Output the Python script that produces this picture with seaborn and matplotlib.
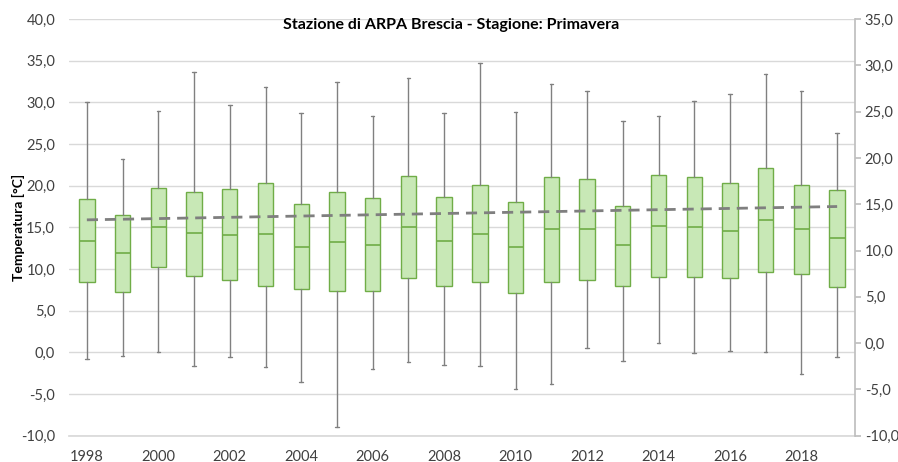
import numpy as np
import pandas as pd
import seaborn as sns
import matplotlib
matplotlib.use("Agg")
import matplotlib.pyplot as plt
from matplotlib.ticker import FuncFormatter, MultipleLocator

# Spring temperature distribution per year
years = [1998, 1999, 2000, 2001, 2002, 2003, 2004, 2005, 2006, 2007, 2008,
         2009, 2010, 2011, 2012, 2013, 2014, 2015, 2016, 2017, 2018, 2019]
t_max = [30.0, 23.2, 29.0, 33.7, 29.7, 31.8, 28.7, 32.4, 28.4, 32.9, 28.7,
         34.7, 28.8, 32.2, 31.4, 27.8, 28.4, 30.2, 31.0, 33.4, 31.4, 26.3]
t_q3 = [18.4, 16.5, 19.7, 19.3, 19.6, 20.3, 17.8, 19.3, 18.5, 21.2, 18.7,
        20.1, 18.0, 21.1, 20.8, 17.6, 21.3, 21.0, 20.3, 22.1, 20.1, 19.5]
t_med = [13.4, 11.9, 15.0, 14.3, 14.1, 14.2, 12.7, 13.3, 12.9, 15.0, 13.4,
         14.2, 12.6, 14.8, 14.8, 12.9, 15.2, 15.0, 14.6, 15.9, 14.8, 13.7]
t_q1 = [8.5, 7.2, 10.3, 9.2, 8.7, 8.0, 7.6, 7.4, 7.4, 8.9, 8.0,
        8.4, 7.1, 8.4, 8.7, 8.0, 9.0, 9.1, 8.9, 9.6, 9.4, 7.8]
t_min = [-0.8, -0.4, 0.0, -1.6, -0.6, -1.8, -3.6, -9.0, -2.0, -1.2, -1.5,
         -1.6, -4.4, -3.8, 0.5, -1.0, 1.1, -0.1, 0.2, 0.1, -2.6, -0.5]

# Linear trend of the median, endpoints
trend_years = [1998, 2019]
trend_values = [15.9, 17.5]

title = "Stazione di ARPA Brescia - Stagione: Primavera"

sns.set_theme(style="white")
plt.rcParams['font.family'] = ['Lato', 'DejaVu Sans']

green_edge = "#70ad47"
green_fill = "#c8e8b6"
grey = "#808080"

fig = plt.figure(figsize=(8.98, 4.62), dpi=100)
ax = fig.add_axes([69 / 898, 1 - 435.7 / 462, 786 / 898, (435.7 - 19) / 462])

stats = []
for i, y in enumerate(years):
    stats.append({"label": str(y), "whislo": t_min[i], "q1": t_q1[i],
                  "med": t_med[i], "q3": t_q3[i], "whishi": t_max[i]})

positions = list(range(len(years)))
ax.bxp(stats, positions=positions, widths=0.43, patch_artist=True,
       showfliers=False, capwidths=0.1,
       boxprops=dict(facecolor=green_fill, edgecolor=green_edge, linewidth=1.0),
       medianprops=dict(color=green_edge, linewidth=1.2),
       whiskerprops=dict(color=grey, linewidth=1.0),
       capprops=dict(color=grey, linewidth=1.0))

df_trend = pd.DataFrame({"pos": [years.index(y) for y in trend_years],
                         "value": trend_values})
sns.lineplot(data=df_trend, x="pos", y="value", ax=ax, color="#7f7f7f",
             linewidth=2, dashes=False, zorder=5)
ax.lines[-1].set_dashes([4, 2.5])

fmt = FuncFormatter(lambda v, p: f"{v:.1f}".replace(".", ","))

ax.set_xlim(-0.5, len(years) - 0.5)
ax.set_ylim(-10, 40)
ax.yaxis.set_major_locator(MultipleLocator(5))
ax.yaxis.set_major_formatter(fmt)
ax.set_xticks(positions[::2])
ax.set_xticklabels([str(y) for y in years[::2]])
ax.grid(axis="y", color="#d9d9d9", linewidth=1)
ax.set_axisbelow(True)
for s in ["left", "right", "top"]:
    ax.spines[s].set_visible(False)
ax.spines["bottom"].set_color("#d9d9d9")
ax.tick_params(axis="y", length=0, labelsize=10.5, colors="#404040", pad=10)
ax.tick_params(axis="x", length=0, labelsize=10.5, colors="#404040", pad=10)
ax.set_xlabel("")
ax.set_ylabel("Temperatura [°C]", fontsize=10, fontweight="bold",
              color="#000000")
ax.yaxis.set_label_coords(-0.056, 0.5)

ax2 = ax.twinx()
ax2.set_ylim(-10, 35)
ax2.yaxis.set_major_locator(MultipleLocator(5))
ax2.yaxis.set_major_formatter(fmt)
for s in ["left", "top", "bottom"]:
    ax2.spines[s].set_visible(False)
ax2.spines["right"].set_color("#bfbfbf")
ax2.tick_params(axis="y", length=4, color="#bfbfbf", labelsize=10.5,
                labelcolor="#404040", direction="out", pad=3)
ax2.grid(False)

fig.text(451 / 898, 1 - 25 / 462, title, ha="center", va="center",
         fontsize=11.5, fontweight="bold", color="#000000")

fig.savefig("out.png", dpi=100)
